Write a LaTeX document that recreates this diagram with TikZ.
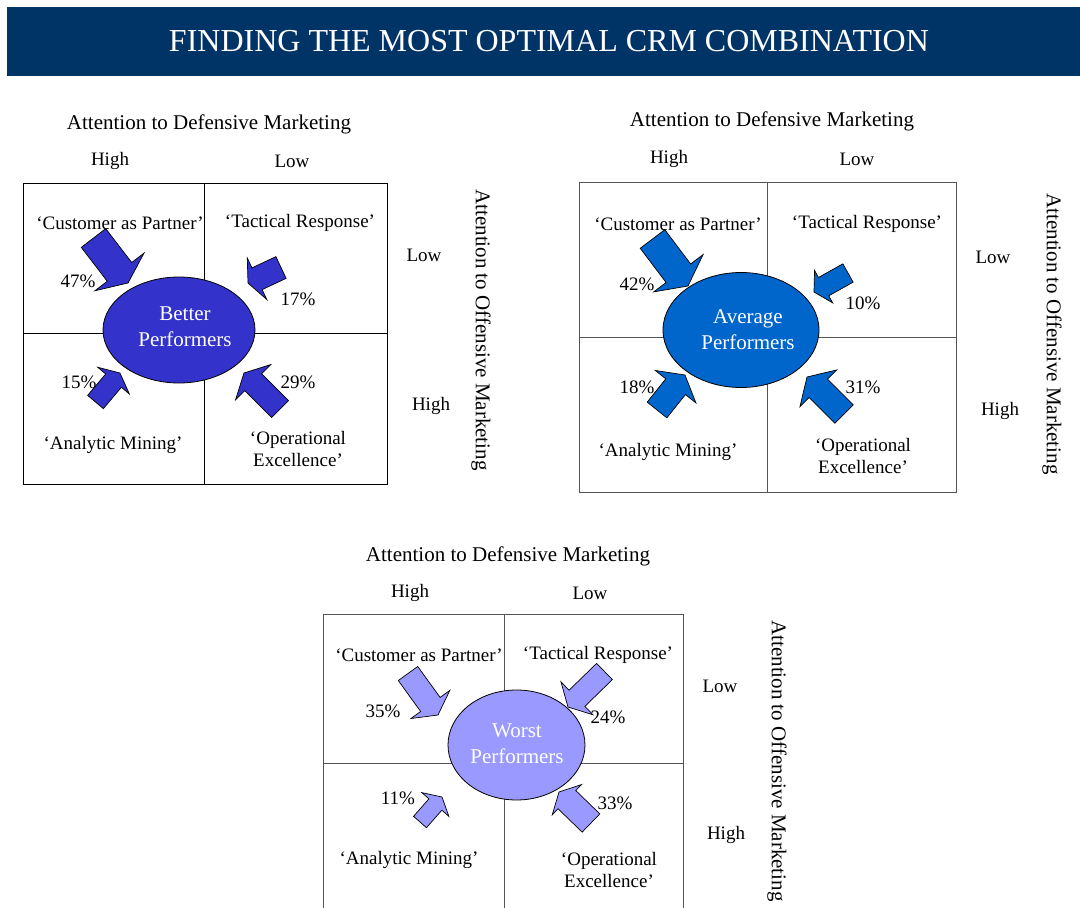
\documentclass[tikz,border=0pt]{standalone}
\usepackage{fontspec}
\setmainfont{Liberation Serif}
\definecolor{titleblue}{RGB}{0, 51, 102}
\definecolor{betterblue}{RGB}{51, 51, 204}
\definecolor{averageblue}{RGB}{0, 102, 204}
\definecolor{worstblue}{RGB}{153, 153, 255}
\definecolor{gridgray}{RGB}{85, 85, 85}
\usetikzlibrary{shapes.geometric, calc}
\tikzset{
    titlebar/.style={fill=titleblue, draw=none},
    titletext/.style={text=white, font=\fontsize{32}{36}\selectfont},
    headlabel/.style={font=\fontsize{21}{25}\selectfont},
    axislabel/.style={font=\fontsize{19}{23}\selectfont},
    offlabel/.style={font=\fontsize{21}{25}\selectfont, rotate=-90},
    quadlabel/.style={font=\fontsize{19}{22.5}\selectfont, align=center},
    pctlabel/.style={font=\fontsize{19}{23}\selectfont},
    perfell/.style={ellipse, draw=black, line width=0.8pt, inner sep=0pt},
    perftext/.style={text=white, align=center, font=\fontsize{21}{26}\selectfont},
    gridline/.style={line width=1pt},
    blockarrow/.style={draw=black, line width=0.7pt, line join=miter},
}
% fat arrow: colour, tail, tip, half shaft, half head, head length
\newcommand{\crmarrow}[6]{%
    \coordinate (arrtail) at #2;
    \coordinate (arrtip) at #3;
    \coordinate (arrbase) at ($(arrtip)!#6pt!(arrtail)$);
    \filldraw[blockarrow, fill=#1] (arrtip)
        -- ($(arrbase)!#5pt!90:(arrtip)$) -- ($(arrbase)!#4pt!90:(arrtip)$)
        -- ($(arrtail)!#4pt!90:(arrtip)$) -- ($(arrtail)!#4pt!-90:(arrtip)$)
        -- ($(arrbase)!#4pt!-90:(arrtip)$) -- ($(arrbase)!#5pt!-90:(arrtip)$)
        -- cycle;
}

\begin{document}
\begin{tikzpicture}[x=1pt, y=-1pt]
    \useasboundingbox (0,0) rectangle (1080,908);

    % Title
    \fill[titlebar] (7,7) rectangle (1080,76);
    \node[titletext] (title) at (549,41) {FINDING THE MOST OPTIMAL CRM COMBINATION};

    % Better performers
    \draw[gridline] (23,183) rectangle (387,484);
    \draw[gridline] (204,183) -- (204,484);
    \draw[gridline] (23,333) -- (387,333);
    \node[perfell, fill=betterblue, minimum width=152, minimum height=106] (better) at (179,330) {};
    \node[perftext] (bettertext) at (185,327) {Better\\Performers};
    \crmarrow{betterblue}{(93.5,238)}{(128,283)}{15.4}{31}{14}
    \crmarrow{betterblue}{(281,267.5)}{(248,283)}{12}{23}{10}
    \crmarrow{betterblue}{(95.5,402)}{(120,373)}{10.3}{20.7}{10}
    \crmarrow{betterblue}{(280,409)}{(244,373)}{12}{25}{13}
    \node[headlabel] (bdef) at (209,124) {Attention to Defensive Marketing};
    \node[axislabel] (bhigh) at (110,161) {High};
    \node[axislabel] (blow) at (292,161) {Low};
    \node[axislabel] (boflow) at (424,255) {Low};
    \node[axislabel] (bofhigh) at (431,406) {High};
    \node[offlabel] (boff) at (481,330) {Attention to Offensive Marketing};
    \node[quadlabel] (bcap) at (120,223) {`Customer as Partner'};
    \node[quadlabel] (btr) at (300,223) {`Tactical Response'};
    \node[quadlabel] (bam) at (113,445) {`Analytic Mining'};
    \node[quadlabel] (boe) at (298,449) {`Operational\\Excellence'};
    \node[pctlabel] (bp1) at (78,281) {47\%};
    \node[pctlabel] (bp2) at (298,299) {17\%};
    \node[pctlabel] (bp3) at (79,382) {15\%};
    \node[pctlabel] (bp4) at (298,382) {29\%};

    % Average performers
    \draw[gridline, gridgray] (579,182) rectangle (956,492);
    \draw[gridline, gridgray] (767,182) -- (767,492);
    \draw[gridline, gridgray] (579,337) -- (956,337);
    \node[perfell, fill=averageblue, minimum width=156, minimum height=115] (average) at (741,330) {};
    \node[perftext] (averagetext) at (748,330) {Average\\Performers};
    \crmarrow{averageblue}{(652.5,239)}{(688,286)}{15.4}{31}{16}
    \crmarrow{averageblue}{(848,273)}{(814,292)}{10.5}{18.6}{11}
    \crmarrow{averageblue}{(657,410)}{(685,375)}{12.6}{26}{15}
    \crmarrow{averageblue}{(844,414)}{(807,377)}{13}{26}{16}
    \node[headlabel] (adef) at (772,121) {Attention to Defensive Marketing};
    \node[axislabel] (ahigh) at (669,159) {High};
    \node[axislabel] (alow) at (857,159) {Low};
    \node[axislabel] (aoflow) at (993,257) {Low};
    \node[axislabel] (aofhigh) at (1000,411) {High};
    \node[offlabel] (aoff) at (1052,334) {Attention to Offensive Marketing};
    \node[quadlabel] (acap) at (678,224) {`Customer as Partner'};
    \node[quadlabel] (atr) at (867,224) {`Tactical Response'};
    \node[quadlabel] (aam) at (668,452) {`Analytic Mining'};
    \node[quadlabel] (aoe) at (863,456) {`Operational\\Excellence'};
    \node[pctlabel] (ap1) at (637,284) {42\%};
    \node[pctlabel] (ap2) at (863,303) {10\%};
    \node[pctlabel] (ap3) at (637,387) {18\%};
    \node[pctlabel] (ap4) at (863,387) {31\%};

    % Worst performers
    \draw[gridline, gridgray] (323,614) rectangle (683,930);
    \draw[gridline, gridgray] (504,614) -- (504,930);
    \draw[gridline, gridgray] (323,763) -- (683,763);
    \node[perfell, fill=worstblue, minimum width=137, minimum height=110] (worst) at (516.5,745) {};
    \node[perftext] (worsttext) at (517,744) {Worst\\Performers};
    \crmarrow{worstblue}{(408,673.5)}{(438,715)}{12}{24}{13}
    \crmarrow{worstblue}{(604.5,671.5)}{(568,707)}{11.3}{23}{12.5}
    \crmarrow{worstblue}{(420,822)}{(442,797)}{8.6}{18}{10}
    \crmarrow{worstblue}{(591,823)}{(559,792)}{12.7}{21}{11}
    \node[headlabel] (wdef) at (508,556) {Attention to Defensive Marketing};
    \node[axislabel] (whigh) at (410,593) {High};
    \node[axislabel] (wlow) at (590,593) {Low};
    \node[axislabel] (woflow) at (720,686) {Low};
    \node[axislabel] (wofhigh) at (726,835) {High};
    \node[offlabel] (woff) at (777,761) {Attention to Offensive Marketing};
    \node[quadlabel] (wcap) at (419,655) {`Customer as Partner'};
    \node[quadlabel] (wtr) at (598,655) {`Tactical Response'};
    \node[quadlabel] (wam) at (409,860) {`Analytic Mining'};
    \node[quadlabel] (woe) at (609,870) {`Operational\\Excellence'};
    \node[pctlabel] (wp1) at (383,711) {35\%};
    \node[pctlabel] (wp2) at (608,717) {24\%};
    \node[pctlabel] (wp3) at (398,798) {11\%};
    \node[pctlabel] (wp4) at (615,803) {33\%};
\end{tikzpicture}
\end{document}
